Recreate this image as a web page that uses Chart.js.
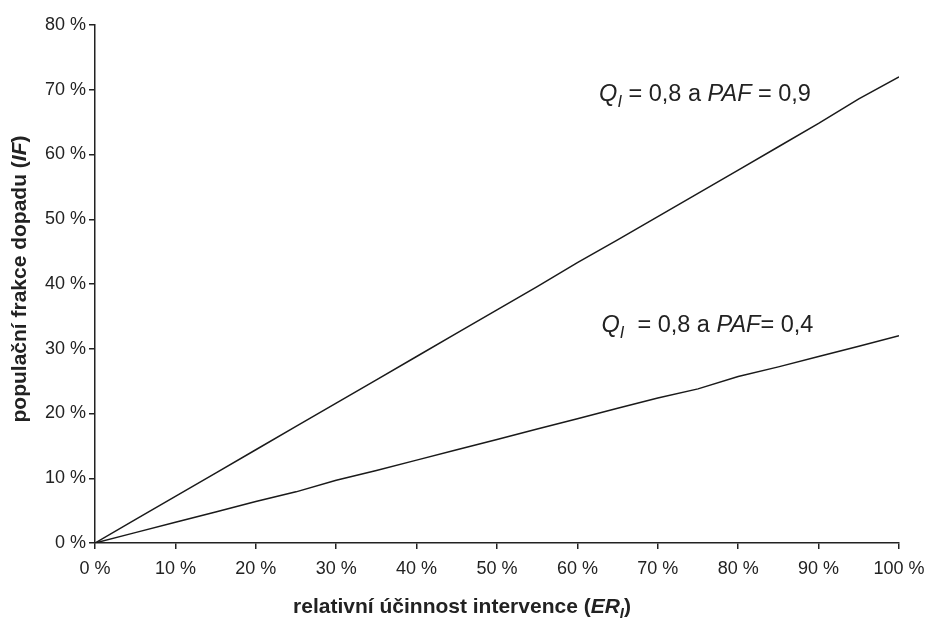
<!DOCTYPE html>
<html>
<head>
<meta charset="utf-8">
<script src="https://cdn.jsdelivr.net/npm/chart.js@4.4.1/dist/chart.umd.min.js"></script>
<style>
  html, body { margin: 0; padding: 0; background: #fff; }
  #wrap { width: 930px; height: 619px; }
</style>
</head>
<body>
<div id="wrap"><canvas id="chart" width="930" height="619"></canvas></div>
<script>
// relative effectiveness of the intervention (ER_I), in %
const effectiveness = [0, 5, 10, 15, 20, 25, 30, 35, 40, 45, 50, 55, 60, 65, 70, 75, 80, 85, 90, 95, 100];
// IF for Q_I = 0,8 and PAF = 0,9
const impactHigh = [0, 3.6, 7.2, 10.8, 14.4, 18, 21.6, 25.2, 28.8, 32.4, 36, 39.6, 43.3, 46.8, 50.4, 54, 57.6, 61.2, 64.8, 68.6, 72];
// IF for Q_I = 0,8 and PAF = 0,4
const impactLow = [0, 1.6, 3.2, 4.8, 6.4, 7.9, 9.7, 11.2, 12.8, 14.4, 16, 17.6, 19.2, 20.8, 22.4, 23.8, 25.7, 27.2, 28.8, 30.4, 32];

const xTicks = [0, 10, 20, 30, 40, 50, 60, 70, 80, 90, 100];
const yTicks = [0, 10, 20, 30, 40, 50, 60, 70, 80];

// label text pieces: [text, italic, subscript]
const labelHigh = [['Q', true, false], ['I', true, true], [' = 0,8 a ', false, false], ['PAF', true, false], [' = 0,9', false, false]];
const labelLow = [['Q', true, false], ['I', true, true], ['  = 0,8 a ', false, false], ['PAF', true, false], ['= 0,4', false, false]];

const FONT = '"Liberation Sans", Arial, sans-serif';

// draws a run of mixed text pieces starting at x, baseline y
function drawRich(ctx, pieces, x, y, size, bold) {
  let cx = x;
  pieces.forEach(p => {
    let s = p[2] ? size * 0.7 : size;
    ctx.font = (p[1] ? 'italic ' : '') + (bold ? 'bold ' : '') + s + 'px ' + FONT;
    ctx.fillText(p[0], cx, p[2] ? y + size * 0.25 : y);
    cx += ctx.measureText(p[0]).width;
  });
  return cx - x;
}
function richWidth(ctx, pieces, size, bold) {
  let w = 0;
  pieces.forEach(p => {
    let s = p[2] ? size * 0.7 : size;
    ctx.font = (p[1] ? 'italic ' : '') + (bold ? 'bold ' : '') + s + 'px ' + FONT;
    w += ctx.measureText(p[0]).width;
  });
  return w;
}

const textPlugin = {
  id: 'texts',
  afterDraw(chart) {
    const ctx = chart.ctx;
    const xs = chart.scales.x, ys = chart.scales.y;
    ctx.save();
    ctx.fillStyle = '#222';
    ctx.textBaseline = 'alphabetic';
    ctx.textAlign = 'left';
    // series labels, anchored on data coordinates
    drawRich(ctx, labelHigh, xs.getPixelForValue(62.7), ys.getPixelForValue(68.3), 23.5, false);
    drawRich(ctx, labelLow, xs.getPixelForValue(63.0), ys.getPixelForValue(32.6), 23.5, false);

    // x axis title
    const xt = [['relativní účinnost intervence (', false, false], ['ER', true, false], ['I', true, true], [')', false, false]];
    let w = richWidth(ctx, xt, 21, true);
    drawRich(ctx, xt, 462 - w / 2, 613, 21, true);

    // y axis title, rotated
    const yt = [['populační frakce dopadu (', false, false], ['IF', true, false], [')', false, false]];
    ctx.translate(26, 279);
    ctx.rotate(-Math.PI / 2);
    w = richWidth(ctx, yt, 21, true);
    drawRich(ctx, yt, -w / 2, 0, 21, true);
    ctx.restore();
  }
};

new Chart(document.getElementById('chart'), {
  type: 'line',
  data: {
    labels: effectiveness,
    datasets: [
      {
        label: 'PAF = 0,9',
        data: effectiveness.map((x, i) => ({ x: x, y: impactHigh[i] })),
        borderColor: '#1a1a1a',
        borderWidth: 1.5,
        pointRadius: 0,
        fill: false,
        tension: 0
      },
      {
        label: 'PAF = 0,4',
        data: effectiveness.map((x, i) => ({ x: x, y: impactLow[i] })),
        borderColor: '#1a1a1a',
        borderWidth: 1.5,
        pointRadius: 0,
        fill: false,
        tension: 0
      }
    ]
  },
  options: {
    responsive: false,
    animation: false,
    layout: { padding: { top: 25, right: 0, left: 0, bottom: 0 } },
    plugins: { legend: { display: false }, tooltip: { enabled: false } },
    scales: {
      x: {
        type: 'linear',
        min: 0,
        max: 100,
        afterBuildTicks: s => { s.ticks = xTicks.map(v => ({ value: v })); },
        afterFit: s => {
          s.height = 619 - 25 - 518;
          s.paddingLeft = 0;
          s.paddingRight = 31;
        },
        border: { color: '#222', width: 1.5 },
        grid: { drawOnChartArea: false, tickLength: 6, color: '#222', lineWidth: 1.5 },
        ticks: {
          color: '#222',
          padding: 9,
          maxRotation: 0,
          font: { family: FONT, size: 18 },
          callback: v => v + ' %'
        }
      },
      y: {
        min: 0,
        max: 80,
        afterBuildTicks: s => { s.ticks = yTicks.map(v => ({ value: v })); },
        afterFit: s => { s.width = 95; s.paddingTop = 0; s.paddingBottom = 0; },
        border: { color: '#222', width: 1.5 },
        grid: { drawOnChartArea: false, tickLength: 6, color: '#222', lineWidth: 1.5 },
        ticks: {
          color: '#222',
          padding: 3,
          font: { family: FONT, size: 18 },
          callback: v => v + ' %'
        }
      }
    }
  },
  plugins: [textPlugin]
});
</script>
</body>
</html>
